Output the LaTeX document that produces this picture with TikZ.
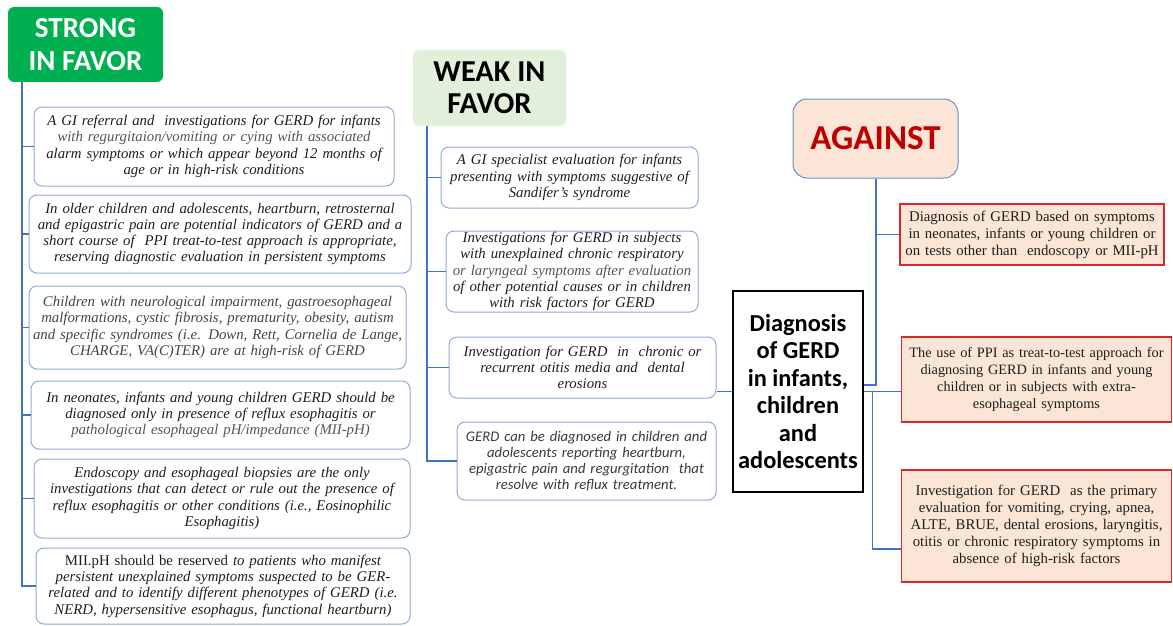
\documentclass[tikz,border=0pt]{standalone}
\usepackage{fontspec}
\setmainfont{Liberation Serif}
\newfontfamily\headfont{Carlito}

\definecolor{strongc}{HTML}{00B050}
\definecolor{weakc}{HTML}{E2EFDA}
\definecolor{peach}{HTML}{FBE5D6}
\definecolor{againstc}{HTML}{C00000}
\definecolor{linec}{HTML}{4472C4}
\definecolor{boxc}{HTML}{8FAADC}
\definecolor{headline}{HTML}{6F8FC0}
\definecolor{redbox}{HTML}{DC2828}
\definecolor{txtc}{HTML}{1E1E1E}
\definecolor{softc}{HTML}{555555}

\begin{document}
\begin{tikzpicture}[x=1pt,y=-1pt,
  strong node/.style={fill=strongc,text=white,rounded corners=6pt,align=center,inner sep=0pt,
    minimum width=155pt,minimum height=75pt,font=\headfont\bfseries\fontsize{29}{33}\selectfont},
  weak node/.style={fill=weakc,text=black,rounded corners=6pt,align=center,inner sep=0pt,
    minimum width=153pt,minimum height=76pt,font=\headfont\bfseries\fontsize{30.4}{32}\selectfont},
  against head/.style={draw=headline,line width=1pt,fill=peach,text=againstc,rounded corners=14pt,align=center,
    inner sep=0pt,minimum width=165pt,minimum height=79pt,font=\headfont\bfseries\fontsize{35}{40}\selectfont},
  diag node/.style={draw=black,line width=1.3pt,align=center,inner sep=0pt,
    minimum width=130pt,minimum height=201pt,font=\headfont\bfseries\fontsize{24.4}{27.4}\selectfont},
  item node/.style={draw=boxc,line width=1pt,rounded corners=8pt,fill=white,align=center,inner xsep=4pt,
    inner ysep=0pt,text=txtc,font=\fontsize{14.8}{16.3}\selectfont\itshape},
  against node/.style={draw=redbox,line width=1.4pt,fill=peach,align=center,inner xsep=4pt,inner ysep=0pt,
    text=txtc,font=\fontsize{14.8}{17}\selectfont},
  branch/.style={draw=linec,line width=1.2pt}]
  \fill[white] (0,0) rectangle (1173,626);
  \useasboundingbox (0,0) rectangle (1173,626);

  \node[strong node] (strong) at (85.5,44.5) {STRONG\\IN FAVOR};
  \node[weak node] (weak) at (489.5,88) {WEAK IN\\FAVOR};
  \node[against head] (against) at (875.5,138.5) {AGAINST};
  \node[diag node] (diag) at (798,391.5) {Diagnosis\\of GERD\\in infants,\\children\\and\\adolescents};

  \node[item node,text width=352pt,minimum height=79pt] (s1) at (214,146.5)
    {A GI referral and~~investigations for GERD for infants\\
     {\color{softc}with regurgitaion/vomiting or cying with associated}\\
     alarm symptoms or which appear beyond 12 months of\\ age or in high-risk conditions};
  \node[item node,text width=374pt,minimum height=78pt] (s2) at (220,234)
    {In older children and adolescents, heartburn, retrosternal\\
     and epigastric pain are potential indicators of GERD and a\\
     short course of~~PPI treat-to-test approach is appropriate,\\
     reserving diagnostic evaluation in persistent symptoms};
  \node[item node,text width=369pt,minimum height=83pt,text=softc!80!black] (s3) at (217.5,327.5)
    {Children with neurological impairment, gastroesophageal\\
     malformations, cystic fibrosis, prematurity, obesity, autism\\
     and specific syndromes (i.e. Down, Rett, Cornelia de Lange,\\
     CHARGE, VA(C)TER) are at high-risk of GERD};
  \node[item node,text width=371pt,minimum height=68pt] (s4) at (220.5,415)
    {In neonates, infants and young children GERD should be\\
     diagnosed only in presence of reflux esophagitis or\\
     {\color{softc}pathological esophageal pH/impedance (MII-pH)}};
  \node[item node,text width=368pt,minimum height=79pt] (s5) at (222,498.5)
    {Endoscopy and esophageal biopsies are the only\\
     investigations that can detect or rule out the presence of\\
     reflux esophagitis or other conditions (i.e., Eosinophilic\\ Esophagitis)};
  \node[item node,text width=366pt,minimum height=76pt] (s6) at (223,586)
    {{\upshape MII.pH should be reserved} to patients who manifest\\
     persistent unexplained symptoms suspected to be GER-\\
     related and to identify different phenotypes of GERD (i.e.\\
     NERD, hypersensitive esophagus, functional heartburn)};

  \node[item node,text width=249pt,minimum height=61pt] (w1) at (569.5,177.5)
    {A GI specialist evaluation for infants\\ presenting with symptoms suggestive of\\ Sandifer’s syndrome};
  \node[item node,text width=244pt,minimum height=81pt] (w2) at (572,271.5)
    {Investigations for GERD in subjects\\ with unexplained chronic respiratory\\
     {\color{softc}or laryngeal symptoms after evaluation}\\ of other potential causes or in children\\
     with risk factors for GERD};
  \node[item node,text width=259pt,minimum height=61pt] (w3) at (582.5,367.5)
    {Investigation for GERD~~in~~chronic or\\ recurrent otitis media and~~dental\\ erosions};
  \node[item node,text width=251pt,minimum height=78pt,text=softc!70!black,
    font=\headfont\itshape\fontsize{14.7}{16}\selectfont] (w4) at (586.5,461)
    {GERD can be diagnosed in children and\\ adolescents reporting heartburn,\\
     epigastric pain and regurgitation~~that\\ resolve with reflux treatment.};

  \node[against node,text width=256pt,minimum height=61pt] (a1) at (1032,234.5)
    {Diagnosis of GERD based on symptoms\\ in neonates, infants or young children or\\
     on tests other than~~endoscopy or MII-pH};
  \node[against node,text width=268pt,inner xsep=1pt,minimum height=85pt,
    font=\fontsize{14.3}{17}\selectfont] (a2) at (1036.5,379.5)
    {The use of PPI as treat-to-test approach for\\ diagnosing GERD in infants and young\\
     children or in subjects with extra-\\ esophageal symptoms};
  \node[against node,text width=262pt,minimum height=112pt] (a3) at (1036.5,526)
    {Investigation for GERD~~as the primary\\ evaluation for vomiting, crying, apnea,\\
     ALTE, BRUE, dental erosions, laryngitis,\\ otitis or chronic respiratory symptoms in\\
     absence of high-risk factors};

  \coordinate (sroot) at (22,82);
  \coordinate (wroot) at (427,126);
  \draw[branch] (sroot) |- (s6.west);
  \foreach \n in {s1,s2,s3,s4,s5}
    \draw[branch] (sroot |- \n.west) -- (\n.west);
  \draw[branch] (wroot) |- (w4.west);
  \foreach \n in {w1,w2,w3}
    \draw[branch] (wroot |- \n.west) -- (\n.west);
  \draw[branch] (diag.west) -- (diag.west -| w3.east);
  \draw[branch,line width=2pt] (against.south) |- ([yshift=6.5pt]diag.east);
  \draw[branch] (against.south |- a1.west) -- (a1.west);
  \draw[branch] (diag.east) -- (diag.east -| a2.west);
  \draw[branch] (diag.east) ++(9,0) |- ([yshift=-23pt]a3.west);
\end{tikzpicture}
\end{document}
